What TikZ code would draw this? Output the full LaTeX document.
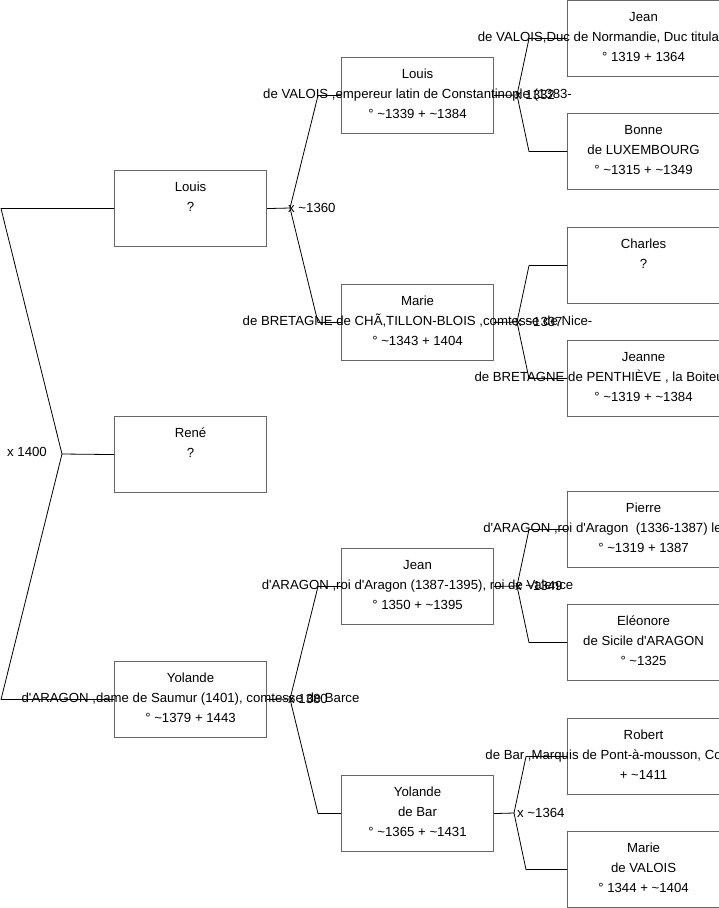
\documentclass[tikz,border=0pt]{standalone}
\usepackage{fontspec}
\setmainfont{Liberation Sans}
\usetikzlibrary{positioning}
\newcommand\ap{\textquotesingle}
\tikzset{
  pbox/.style={rectangle, draw=black!60, line width=1.1pt, anchor=north west,
               minimum width=152pt, minimum height=76pt, inner sep=0pt},
  ptext/.style={anchor=north, inner sep=0pt, align=center, yshift=-12pt,
                font=\fontsize{13.2}{20}\selectfont},
  link/.style={draw=black, line width=0.8pt, line join=bevel},
  wed/.style={anchor=west, inner sep=0pt, font=\fontsize{13.2}{15}\selectfont},
}
\begin{document}
\begin{tikzpicture}[x=1pt, y=-1pt]
  \useasboundingbox (0,0) rectangle (719,908);
  \clip (0,0) rectangle (719,908);

  % first column
  \node[pbox] (louisA)  at (114,170) {};
  \node[ptext] (louisAt) at (louisA.north) {Louis\\?\\\strut};
  \node[pbox] (rene)    at (114,416) {};
  \node[ptext] (renet)  at (rene.north) {René\\?\\\strut};
  \node[pbox] (yolA)    at (114,661) {};
  \node[ptext] (yolAt)  at (yolA.north)
    {Yolande\\d\ap ARAGON ,dame de Saumur (1401), comtesse de Barce\\° \textasciitilde1379 + 1443};

  % second column
  \node[pbox] (louisB)  at (341,57) {};
  \node[ptext] (louisBt) at (louisB.north)
    {Louis\\de VALOIS ,empereur latin de Constantinople (1383-\\° \textasciitilde1339 + \textasciitilde1384};
  \node[pbox] (marieB)  at (341,284) {};
  \node[ptext] (marieBt) at (marieB.north)
    {Marie\\de BRETAGNE de CHÃ,TILLON-BLOIS ,comtesse de Nice-\\° \textasciitilde1343 + 1404};
  \node[pbox] (jeanB)   at (341,548) {};
  \node[ptext] (jeanBt) at (jeanB.north)
    {Jean\\d\ap ARAGON ,roi d\ap Aragon (1387-1395), roi de Valence\\° 1350 + \textasciitilde1395};
  \node[pbox] (yolB)    at (341,775) {};
  \node[ptext] (yolBt)  at (yolB.north)
    {Yolande\\de Bar\\° \textasciitilde1365 + \textasciitilde1431};

  % third column
  \node[pbox] (jeanC)   at (567,0) {};
  \node[ptext] (jeanCt) at (jeanC.north)
    {Jean\\de VALOIS,Duc de Normandie, Duc titulaire de Guyenne\\° 1319 + 1364};
  \node[pbox] (bonne)   at (567,113) {};
  \node[ptext] (bonnet) at (bonne.north)
    {Bonne\\de LUXEMBOURG\\° \textasciitilde1315 + \textasciitilde1349};
  \node[pbox] (charles) at (567,227) {};
  \node[ptext] (charlest) at (charles.north) {Charles\\?\\\strut};
  \node[pbox] (jeanne)  at (567,340) {};
  \node[ptext] (jeannet) at (jeanne.north)
    {Jeanne\\de BRETAGNE de PENTHIÈVE , la Boiteuse, duchesse d\\° \textasciitilde1319 + \textasciitilde1384};
  \node[pbox] (pierre)  at (567,491) {};
  \node[ptext] (pierret) at (pierre.north)
    {Pierre\\d\ap ARAGON ,roi d\ap Aragon\ \ (1336-1387) le Cérémonieux\\° \textasciitilde1319 + 1387};
  \node[pbox] (eleo)    at (567,604) {};
  \node[ptext] (eleot)  at (eleo.north)
    {Eléonore\\de Sicile d\ap ARAGON\\° \textasciitilde1325};
  \node[pbox] (robert)  at (567,718) {};
  \node[ptext] (robertt) at (robert.north)
    {Robert\\de Bar ,Marquis de Pont-à-mousson, Comte de Bar (1\\+ \textasciitilde1411};
  \node[pbox] (marieC)  at (567,831) {};
  \node[ptext] (marieCt) at (marieC.north)
    {Marie\\de VALOIS\\° 1344 + \textasciitilde1404};

  % junctions
  \coordinate (j0) at (62,454);
  \coordinate (j1) at (290,208);
  \coordinate (j2) at (517,95);
  \coordinate (j3) at (517,322);
  \coordinate (j4) at (290,699);
  \coordinate (j5) at (517,586);
  \coordinate (j6) at (514,813);

  \draw[link] (louisA.west) -- ([xshift=-113pt]louisA.west) -- (j0) -- (rene.west);
  \draw[link] (yolA.west) -- ([xshift=-113pt]yolA.west) -- (j0);
  \draw[link] (louisA.east) -- (j1) -- ([xshift=-23pt]louisB.west) -- (louisB.west);
  \draw[link] (j1) -- ([xshift=-23pt]marieB.west) -- (marieB.west);
  \draw[link] (yolA.east) -- (j4) -- ([xshift=-23pt]jeanB.west) -- (jeanB.west);
  \draw[link] (j4) -- ([xshift=-23pt]yolB.west) -- (yolB.west);
  \draw[link] (louisB.east) -- (j2) -- ([xshift=-38pt]jeanC.west) -- (jeanC.west);
  \draw[link] (j2) -- ([xshift=-38pt]bonne.west) -- (bonne.west);
  \draw[link] (marieB.east) -- (j3) -- ([xshift=-38pt]charles.west) -- (charles.west);
  \draw[link] (j3) -- ([xshift=-38pt]jeanne.west) -- (jeanne.west);
  \draw[link] (jeanB.east) -- (j5) -- ([xshift=-38pt]pierre.west) -- (pierre.west);
  \draw[link] (j5) -- ([xshift=-38pt]eleo.west) -- (eleo.west);
  \draw[link] (yolB.east) -- (j6) -- ([xshift=-41pt]robert.west) -- (robert.west);
  \draw[link] (j6) -- ([xshift=-41pt]marieC.west) -- (marieC.west);

  % marriages
  \node[wed, anchor=center] (w0) at (27,452) {x 1400};
  \node[wed] (w1) at ([xshift=-2pt]j1) {x \textasciitilde1360};
  \node[wed] (w2) at ([xshift=-2pt]j2) {x 1332};
  \node[wed] (w3) at ([xshift=-2pt]j3) {x \textasciitilde1337};
  \node[wed] (w4) at ([xshift=-2pt]j4) {x 1380};
  \node[wed] (w5) at ([xshift=-2pt]j5) {x \textasciitilde1349};
  \node[wed] (w6) at ([xshift=3pt]j6) {x \textasciitilde1364};
\end{tikzpicture}
\end{document}
